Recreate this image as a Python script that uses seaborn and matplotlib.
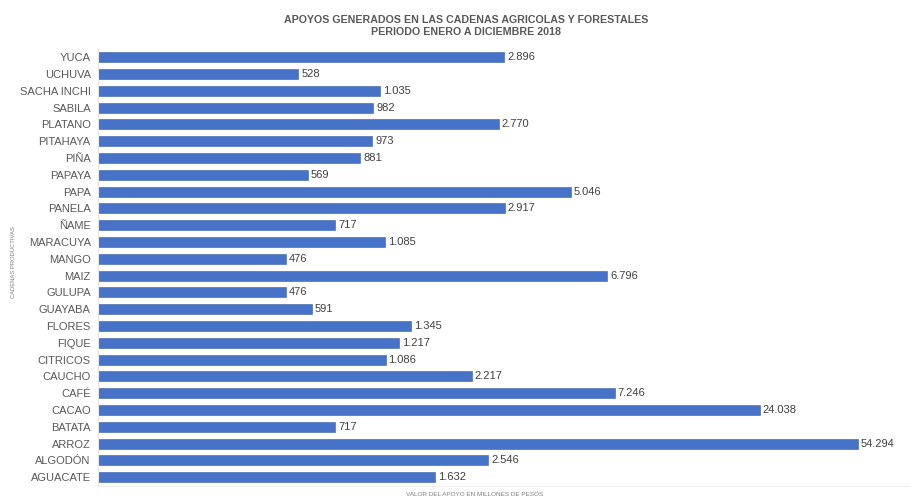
import matplotlib
matplotlib.use('Agg')
import matplotlib.pyplot as plt
import seaborn as sns
import pandas as pd

# Datos del grafico (de arriba hacia abajo)
cadenas = ['YUCA', 'UCHUVA', 'SACHA INCHI', 'SABILA', 'PLATANO', 'PITAHAYA', 'PIÑA',
           'PAPAYA', 'PAPA', 'PANELA', 'ÑAME', 'MARACUYA', 'MANGO', 'MAIZ', 'GULUPA',
           'GUAYABA', 'FLORES', 'FIQUE', 'CITRICOS', 'CAUCHO', 'CAFÉ', 'CACAO',
           'BATATA', 'ARROZ', 'ALGODÓN', 'AGUACATE']
valores = [2896, 528, 1035, 982, 2770, 973, 881, 569, 5046, 2917, 717, 1085, 476,
           6796, 476, 591, 1345, 1217, 1086, 2217, 7246, 24038, 717, 54294, 2546, 1632]

df = pd.DataFrame({'cadena': cadenas, 'valor': valores})

sns.set_style('white')
plt.rcParams['font.family'] = ['Liberation Sans', 'DejaVu Sans']

fig = plt.figure(figsize=(9.12, 4.98), dpi=100)
ax = fig.add_axes([0.107, 0.025, 0.893, 0.877])

sns.barplot(data=df, x='valor', y='cadena', orient='h', color='#4673C8',
            width=0.6, saturation=1, ax=ax, edgecolor='#3A5FA8', linewidth=0.4)
ax.set_xscale('log')
ax.set_xlim(100, 85000)
ax.set_ylim(25.5, -0.5)

# etiquetas de valor con punto de miles
for i, v in enumerate(valores):
    txt = f'{v:,}'.replace(',', '.')
    ax.text(v * 1.025, i, txt, va='center', ha='left', fontsize=8, color='#404040')

ax.set_xticks([])
ax.minorticks_off()
ax.tick_params(axis='y', length=0, pad=5, labelsize=8, labelcolor='#595959')
ax.set_xlabel('')
ax.set_ylabel('')
for s in ['top', 'right']:
    ax.spines[s].set_visible(False)
ax.spines['left'].set_color('#E6E6E6')
ax.spines['bottom'].set_color('#F0F0F0')
ax.spines['left'].set_linewidth(0.8)
ax.spines['bottom'].set_linewidth(0.8)

fig.text(0.511, 0.960, 'APOYOS GENERADOS EN LAS CADENAS AGRICOLAS Y FORESTALES',
         ha='center', va='center', fontsize=7.7, fontweight='bold', color='#595959')
fig.text(0.511, 0.935, 'PERIODO ENERO A DICIEMBRE 2018',
         ha='center', va='center', fontsize=7.7, fontweight='bold', color='#595959')
fig.text(0.015, 0.474, 'CADENAS PRODUCTIVAS', rotation=90, ha='center', va='center',
         fontsize=4.2, color='#7F7F7F')
fig.text(0.52, 0.008, 'VALOR DEL APOYO EN MILLONES DE PESOS', ha='center', va='center',
         fontsize=4.6, color='#7F7F7F')

fig.savefig('out.png', dpi=100)
